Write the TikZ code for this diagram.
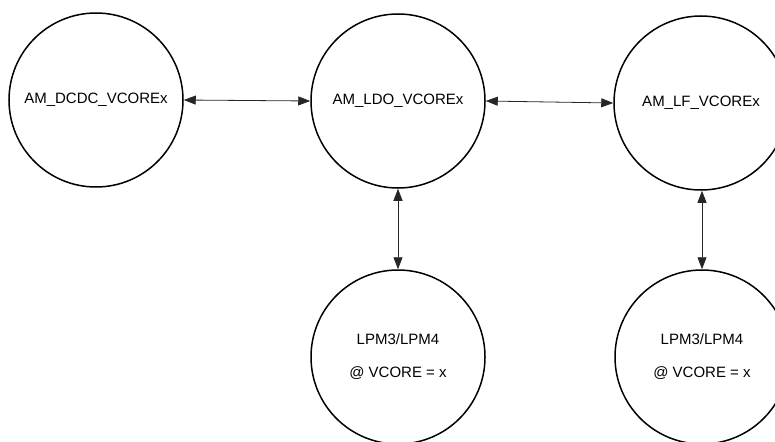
\documentclass[tikz,border=0pt]{standalone}
\usepackage{fontspec}
\setmainfont{Liberation Sans}
\usetikzlibrary{arrows.meta}
\tikzset{
  state/.style={draw, circle, line width=1.5pt, minimum size=174pt, inner sep=0pt,
    align=center, font=\fontsize{15}{17}\selectfont},
  link/.style={<->, >={Triangle[length=12pt,width=9pt]}, line width=0.8pt, black!85}
}
\begin{document}
\begin{tikzpicture}[x=1pt,y=-1pt]
      \clip (0,0) rectangle (775,441);
      \draw
        (96,100) node[state] (dcdc){AM\_DCDC\_VCOREx}
        (398,101) node[state] (ldo){AM\_LDO\_VCOREx}
        (701,103) node[state] (lf){AM\_LF\_VCOREx}
        (398,357) node[state] (lpmldo){LPM3/LPM4\\[16pt]@ VCORE = x}
        (702,357) node[state] (lpmlf){LPM3/LPM4\\[16pt]@ VCORE = x};
      \begin{scope}[link]
        \draw (dcdc.east) to (ldo.west);
        \draw (ldo.east) to (lf.west);
        \draw (ldo.south) to (lpmldo.north);
        \draw (lf.south -| lpmlf.north) to (lpmlf.north);
      \end{scope}
    \end{tikzpicture}
\end{document}
